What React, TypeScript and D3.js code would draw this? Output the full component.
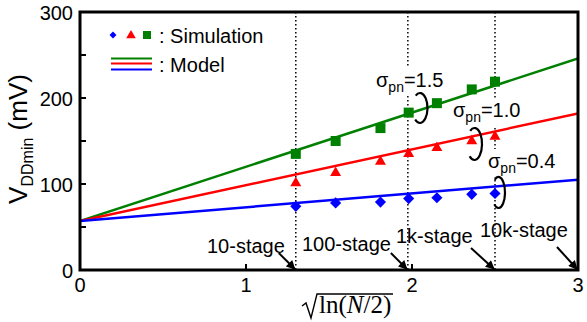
import React from "react";
import * as d3 from "d3";

// ---- data ----
const simX = [1.3, 1.54, 1.81, 1.98, 2.15, 2.36, 2.5];
const simGreen = [135, 150, 165, 183, 194, 210, 219];
const simRed = [101, 113, 126, 135, 142, 150, 155];
const simBlue = [74, 78, 79, 83, 84, 88, 89];

const modelX = [0, 3];
const modelGreen = [57, 246];
const modelRed = [57, 182];
const modelBlue = [57, 105];

const stageX = [1.3, 1.975, 2.5];
const stageArrowX = [1.3, 1.975, 2.5, 3];
const stageLabels = ["10-stage", "100-stage", "1k-stage", "10k-stage"];

const xTicks = [0, 1, 2, 3];
const yTicks = [0, 100, 200, 300];
const yMinorTicks = [50, 150, 250];

const sigmaLabels = ["1.5", "1.0", "0.4"];

const GREEN = "#008000";
const RED = "#ff0000";
const BLUE = "#0000ff";
const FONT = "'Liberation Sans', Arial, Helvetica, sans-serif";

export default function App() {
  const W = 587,
    H = 322;
  const x = d3.scaleLinear().domain([0, 3]).range([80, 578]);
  const y = d3.scaleLinear().domain([0, 300]).range([270, 12]);

  const line = d3
    .line<number>()
    .x((_, i) => x(modelX[i]))
    .y((d) => y(d));

  const square = d3.symbol().type(d3.symbolSquare).size(100)()!;
  const diamond = d3.symbol().type(d3.symbolSquare).size(62)()!;
  const tri = d3.symbol().type(d3.symbolTriangle).size(52)()!;
  const lSquare = d3.symbol().type(d3.symbolSquare).size(64)()!;
  const lDiamond = d3.symbol().type(d3.symbolSquare).size(24)()!;
  const lTri = d3.symbol().type(d3.symbolTriangle).size(40)()!;

  // label placement (pixels)
  const stageText = [
    { tx: 207, ty: 253, dx0: -17, dy0: -17 },
    { tx: 302, ty: 251, dx0: -17, dy0: -17 },
    { tx: 396, ty: 243, dx0: -24, dy0: -22 },
    { tx: 480, ty: 237, dx0: -21, dy0: -23 },
  ];
  const sigmaPos = [
    { tx: 376, ty: 87 },
    { tx: 453, ty: 117 },
    { tx: 488, ty: 168 },
  ];
  const loops = [
    { cx: 420, cy: 108, rx: 7.5, ry: 15 },
    { cx: 474.5, cy: 144, rx: 7.5, ry: 16 },
    { cx: 498.5, cy: 192.5, rx: 6.5, ry: 15.5 },
  ];

  const loopPath = (l: { cx: number; cy: number; rx: number; ry: number }) => {
    const a0 = (-125 * Math.PI) / 180;
    const a1 = (130 * Math.PI) / 180;
    const sx = l.cx + l.rx * Math.cos(a0);
    const sy = l.cy + l.ry * Math.sin(a0);
    const ex = l.cx + l.rx * Math.cos(a1);
    const ey = l.cy + l.ry * Math.sin(a1);
    return `M${sx},${sy} A${l.rx},${l.ry} 0 1 1 ${ex},${ey}`;
  };

  return (
    <svg
      width={W}
      height={H}
      style={{ position: "absolute", left: 0, top: 0, background: "#fff" }}
      fontFamily={FONT}
    >
      <defs>
        <marker
          id="ah"
          viewBox="0 0 10 10"
          refX="9"
          refY="5"
          markerWidth="5"
          markerHeight="4.5"
          orient="auto"
          markerUnits="strokeWidth"
        >
          <path d="M0,0 L10,5 L0,10 z" fill="#000" />
        </marker>
        <clipPath id="plot">
          <rect x={80} y={12} width={498} height={258} />
        </clipPath>
      </defs>

      {/* dotted stage lines */}
      {stageX.map((v, i) => (
        <line
          key={i}
          x1={x(v)}
          x2={x(v)}
          y1={y(300)}
          y2={y(0)}
          stroke="#000"
          strokeWidth={1.5}
          strokeDasharray="1.5,2.5"
        />
      ))}

      {/* white backgrounds of sigma labels */}
      {sigmaPos.map((p, i) => (
        <rect key={i} x={p.tx - 2} y={p.ty - 19} width={72} height={28} fill="#fff" />
      ))}

      {/* model lines */}
      <g clipPath="url(#plot)">
        <path d={line(modelGreen)!} fill="none" stroke={GREEN} strokeWidth={2.5} />
        <path d={line(modelRed)!} fill="none" stroke={RED} strokeWidth={2.5} />
        <path d={line(modelBlue)!} fill="none" stroke={BLUE} strokeWidth={2.5} />
      </g>

      {/* simulation markers */}
      {simX.map((v, i) => (
        <path key={"g" + i} d={square} transform={`translate(${x(v)},${y(simGreen[i])})`} fill={GREEN} />
      ))}
      {simX.map((v, i) => (
        <path key={"r" + i} d={tri} transform={`translate(${x(v)},${y(simRed[i])})`} fill={RED} />
      ))}
      {simX.map((v, i) => (
        <path
          key={"b" + i}
          d={diamond}
          transform={`translate(${x(v)},${y(simBlue[i])}) rotate(45)`}
          fill={BLUE}
        />
      ))}

      {/* sigma labels */}
      {sigmaPos.map((p, i) => (
        <text key={i} x={p.tx} y={p.ty} fontSize={20} fill="#000">
          σ
          <tspan fontSize={14} dy={5}>
            pn
          </tspan>
          <tspan dy={-5}>={sigmaLabels[i]}</tspan>
        </text>
      ))}
      {loops.map((l, i) => (
        <path key={i} d={loopPath(l)} fill="none" stroke="#000" strokeWidth={2.2} />
      ))}

      {/* stage labels and arrows */}
      {stageLabels.map((s, i) => {
        const tipX = x(stageArrowX[i]);
        const tipY = y(0);
        return (
          <g key={i}>
            <text x={stageText[i].tx} y={stageText[i].ty} fontSize={20} fill="#000">
              {s}
            </text>
            <line
              x1={tipX + stageText[i].dx0}
              y1={tipY + stageText[i].dy0}
              x2={tipX - 1}
              y2={tipY - 1}
              stroke="#000"
              strokeWidth={2}
              markerEnd="url(#ah)"
            />
          </g>
        );
      })}

      {/* legend */}
      <path d={lDiamond} transform="translate(113,35) rotate(45)" fill={BLUE} />
      <path d={lTri} transform="translate(131,35.5)" fill={RED} />
      <path d={lSquare} transform="translate(147,35)" fill={GREEN} />
      <text x={159} y={42.5} fontSize={20} fill="#000">
        : Simulation
      </text>
      <line x1={111} x2={152} y1={58.5} y2={58.5} stroke={GREEN} strokeWidth={2} />
      <line x1={111} x2={152} y1={63.5} y2={63.5} stroke={RED} strokeWidth={2} />
      <line x1={111} x2={152} y1={69.5} y2={69.5} stroke={BLUE} strokeWidth={2} />
      <text x={159} y={72} fontSize={20} fill="#000">
        : Model
      </text>

      {/* axes frame */}
      <rect x={80} y={12} width={498} height={258} fill="none" stroke="#000" strokeWidth={3} />
      {xTicks.map((t) => (
        <g key={t}>
          <line x1={x(t)} x2={x(t)} y1={y(0)} y2={y(0) - 6} stroke="#000" strokeWidth={2} />
          <text x={x(t)} y={292} fontSize={20} textAnchor="middle" fill="#000">
            {t}
          </text>
        </g>
      ))}
      {yTicks.map((t) => (
        <g key={t}>
          <line x1={80} x2={86} y1={y(t)} y2={y(t)} stroke="#000" strokeWidth={2} />
          <text x={73} y={y(t) + 8} fontSize={20} textAnchor="end" fill="#000">
            {t}
          </text>
        </g>
      ))}
      {yMinorTicks.map((t) => (
        <line key={t} x1={80} x2={86} y1={y(t)} y2={y(t)} stroke="#000" strokeWidth={2} />
      ))}

      {/* y axis title */}
      <text transform="translate(27,139) rotate(-90)" textAnchor="middle" fontSize={26} fill="#000">
        V
        <tspan fontSize={16} dy={6}>
          DDmin
        </tspan>
        <tspan dy={-6}> (mV)</tspan>
      </text>

      {/* x axis title: sqrt(ln(N/2)) */}
      <path
        d="M302,306 L306,303 L311,318 L317,294 L393,294"
        fill="none"
        stroke="#000"
        strokeWidth={1.4}
      />
      <text
        x={319}
        y={313}
        fontSize={25}
        fontFamily="'Liberation Serif', 'Times New Roman', serif"
        fill="#000"
      >
        ln(<tspan fontStyle="italic">N</tspan>/2)
      </text>
    </svg>
  );
}
